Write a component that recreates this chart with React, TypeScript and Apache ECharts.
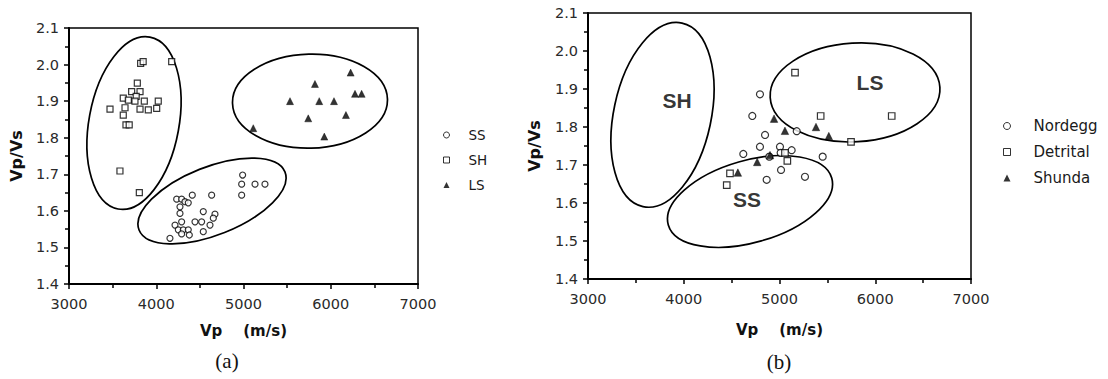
import React, { useEffect, useRef } from "react";
import * as echarts from "echarts";

// ---- Data: panel (a) ----
const ssA: number[][] = [
  [4990, 1.698], [4979, 1.673], [4979, 1.643], [5132, 1.673], [5246, 1.673],
  [4635, 1.643], [4413, 1.643], [4234, 1.632], [4291, 1.632], [4329, 1.625],
  [4367, 1.622], [4272, 1.611], [4272, 1.593], [4539, 1.598], [4673, 1.591],
  [4654, 1.58], [4444, 1.57], [4520, 1.57], [4291, 1.57], [4616, 1.561],
  [4215, 1.561], [4253, 1.548], [4310, 1.548], [4367, 1.548], [4539, 1.543],
  [4291, 1.537], [4379, 1.534], [4157, 1.525],
];
const shA: number[][] = [
  [3821, 2.003], [3850, 2.008], [4177, 2.008], [3783, 1.949], [3718, 1.926],
  [3814, 1.926], [3770, 1.913], [3622, 1.908], [3680, 1.903], [3756, 1.9],
  [3863, 1.9], [4023, 1.9], [3470, 1.878], [3642, 1.882], [3814, 1.878],
  [3909, 1.876], [4005, 1.88], [3622, 1.862], [3653, 1.835], [3690, 1.835],
  [3584, 1.709], [3806, 1.65],
];
const lsA: number[][] = [
  [6228, 1.978], [5819, 1.947], [5533, 1.9], [5868, 1.9], [6037, 1.9],
  [6278, 1.92], [6354, 1.92], [6174, 1.862], [5742, 1.853], [5926, 1.803],
  [5112, 1.826],
];
// ellipses: [centerVp, centerRatio, semiAxisX (m/s), semiAxisY (ratio), rotationDeg]
const ellipsesA: number[][] = [
  [3745, 1.84, 516, 0.239, -10.5],
  [4639, 1.627, 900, 0.093, 21.7],
  [5762, 1.9, 888, 0.1285, 1.5],
];

// ---- Data: panel (b) ----
const nordegg: number[][] = [
  [4796, 1.886], [4716, 1.829], [4849, 1.779], [4796, 1.748], [4622, 1.729],
  [5005, 1.748], [5127, 1.739], [5012, 1.732], [4894, 1.722], [5451, 1.722],
  [5016, 1.687], [4866, 1.661], [5266, 1.669], [5180, 1.789],
];
const detrital: number[][] = [
  [5162, 1.943], [5430, 1.829], [6172, 1.829], [5747, 1.761], [5082, 1.711],
  [5057, 1.732], [4483, 1.678], [4449, 1.647],
];
const shunda: number[][] = [
  [4943, 1.822], [5057, 1.79], [5381, 1.8], [5515, 1.776], [4767, 1.708],
  [4565, 1.68], [4901, 1.726],
];
const ellipsesB: number[][] = [
  [3778, 1.832, 509, 0.247, -12],
  [5789, 1.891, 888, 0.13, 3.4],
  [4692, 1.604, 888, 0.108, 16],
];
const zoneLabelsB = [
  { name: "SH", value: [3930, 1.871] },
  { name: "LS", value: [5945, 1.918] },
  { name: "SS", value: [4661, 1.608] },
];

const xTicks = { min: 3000, max: 7000, interval: 1000 };
const yTicks = { min: 1.4, max: 2.1, interval: 0.1 };

const FONT = "DejaVu Sans";

function makeAxes(gi: number, xGap: number, yGap: number) {
  const common = {
    gridIndex: gi,
    type: "value",
    axisLine: { show: true, lineStyle: { color: "#000", width: 2 } },
    axisTick: { show: true, length: 5, lineStyle: { color: "#000", width: 1.5 } },
    minorTick: { show: true, splitNumber: 2, length: 4, lineStyle: { color: "#000", width: 1.5 } },
    splitLine: { show: false },
    minorSplitLine: { show: false },
    nameLocation: "middle",
    nameTextStyle: { fontFamily: FONT, fontWeight: "bold", fontSize: 15, color: "#111" },
  };
  const x = {
    ...common,
    ...xTicks,
    name: "Vp    (m/s)",
    nameGap: xGap,
    axisLabel: {
      color: "#2a2a2a",
      fontSize: 14.5,
      fontFamily: FONT,
      margin: 12,
      formatter: (v: number) => String(v),
    },
  };
  const y = {
    ...common,
    ...yTicks,
    name: "Vp/Vs",
    nameGap: yGap,
    nameTextStyle: { ...common.nameTextStyle, fontSize: 16 },
    axisLabel: {
      color: "#2a2a2a",
      fontSize: 14.5,
      fontFamily: FONT,
      margin: 10,
      formatter: (v: number) => v.toFixed(1),
    },
  };
  return { x, y };
}

function ellipseSeries(gi: number, data: number[][]) {
  return {
    type: "custom",
    xAxisIndex: gi,
    yAxisIndex: gi,
    silent: true,
    clip: false,
    encode: { x: 0, y: 1 },
    data,
    renderItem: (params: any, api: any) => {
      const c = api.coord([api.value(0), api.value(1)]);
      const rx = api.size([api.value(2), 0])[0];
      const ry = api.size([0, api.value(3)])[1];
      return {
        type: "ellipse",
        x: c[0],
        y: c[1],
        rotation: (api.value(4) * Math.PI) / 180,
        shape: { cx: 0, cy: 0, rx, ry },
        style: { fill: "none", stroke: "#000", lineWidth: 1.7 },
      };
    },
  };
}

function scatter(name: string, gi: number, data: number[][], symbol: string, size: number, filled: boolean) {
  return {
    name,
    type: "scatter",
    xAxisIndex: gi,
    yAxisIndex: gi,
    data,
    symbol,
    symbolSize: size,
    itemStyle: filled
      ? { color: "#000", borderColor: "#000", borderWidth: 0.5 }
      : { color: "#fff", borderColor: "#000", borderWidth: 1.2 },
    emphasis: { disabled: true },
  };
}

export default function App() {
  const ref = useRef<HTMLDivElement>(null);
  useEffect(() => {
    document.body.style.margin = "0";
    if (!ref.current) return;
    const chart = echarts.init(ref.current, null, { renderer: "svg" });
    const a = makeAxes(0, 39, 45);
    const b = makeAxes(1, 43, 46);
    const legendText = { fontFamily: FONT, color: "#1a1a1a", lineHeight: 16 };
    const hollow = { color: "#fff", borderColor: "#000", borderWidth: 1 };
    const solid = { color: "#000", borderColor: "#000", borderWidth: 0 };
    chart.setOption({
      animation: false,
      backgroundColor: "#fff",
      grid: [
        { left: 69, top: 28, width: 349, height: 256, show: true, borderColor: "#000", borderWidth: 1.5, backgroundColor: "transparent" },
        { left: 588, top: 13, width: 383, height: 266, show: true, borderColor: "#000", borderWidth: 1.5, backgroundColor: "transparent" },
      ],
      xAxis: [a.x, b.x],
      yAxis: [a.y, b.y],
      legend: [
        {
          orient: "vertical",
          left: 438,
          top: 122,
          itemWidth: 6,
          itemHeight: 6,
          itemGap: 9,
          symbolKeepAspect: true,
          selectedMode: false,
          textStyle: { ...legendText, fontSize: 13.5, padding: [0, 0, 0, 14] },
          data: [
            { name: "SS", icon: "circle", itemStyle: hollow },
            { name: "SH", icon: "rect", itemStyle: hollow },
            { name: "LS", icon: "triangle", itemStyle: solid },
          ],
        },
        {
          orient: "vertical",
          left: 998,
          top: 113,
          itemWidth: 7,
          itemHeight: 7,
          itemGap: 10,
          symbolKeepAspect: true,
          selectedMode: false,
          textStyle: { ...legendText, fontSize: 15, padding: [0, 0, 0, 18] },
          data: [
            { name: "Nordegg", icon: "circle", itemStyle: hollow },
            { name: "Detrital", icon: "rect", itemStyle: hollow },
            { name: "Shunda", icon: "triangle", itemStyle: solid },
          ],
        },
      ],
      graphic: [
        { type: "text", x: 227, y: 361, style: { text: "(a)", fontFamily: "Liberation Serif", fontSize: 21, fill: "#111", textAlign: "center", textVerticalAlign: "middle" } },
        { type: "text", x: 779, y: 362, style: { text: "(b)", fontFamily: "Liberation Serif", fontSize: 21, fill: "#111", textAlign: "center", textVerticalAlign: "middle" } },
      ],
      series: [
        ellipseSeries(0, ellipsesA),
        ellipseSeries(1, ellipsesB),
        scatter("SS", 0, ssA, "circle", 6, false),
        scatter("SH", 0, shA, "rect", 6, false),
        scatter("LS", 0, lsA, "triangle", 7, true),
        scatter("Nordegg", 1, nordegg, "circle", 7, false),
        scatter("Detrital", 1, detrital, "rect", 6.5, false),
        scatter("Shunda", 1, shunda, "triangle", 7.5, true),
        {
          type: "scatter",
          xAxisIndex: 1,
          yAxisIndex: 1,
          data: zoneLabelsB,
          symbolSize: 1,
          itemStyle: { color: "rgba(0,0,0,0)" },
          silent: true,
          label: {
            show: true,
            position: "inside",
            formatter: "{b}",
            fontFamily: "Liberation Sans",
            fontWeight: "bold",
            fontSize: 21,
            color: "#000",
          },
        },
      ],
    });
    return () => chart.dispose();
  }, []);
  return <div ref={ref} style={{ width: 1108, height: 379 }} />;
}
